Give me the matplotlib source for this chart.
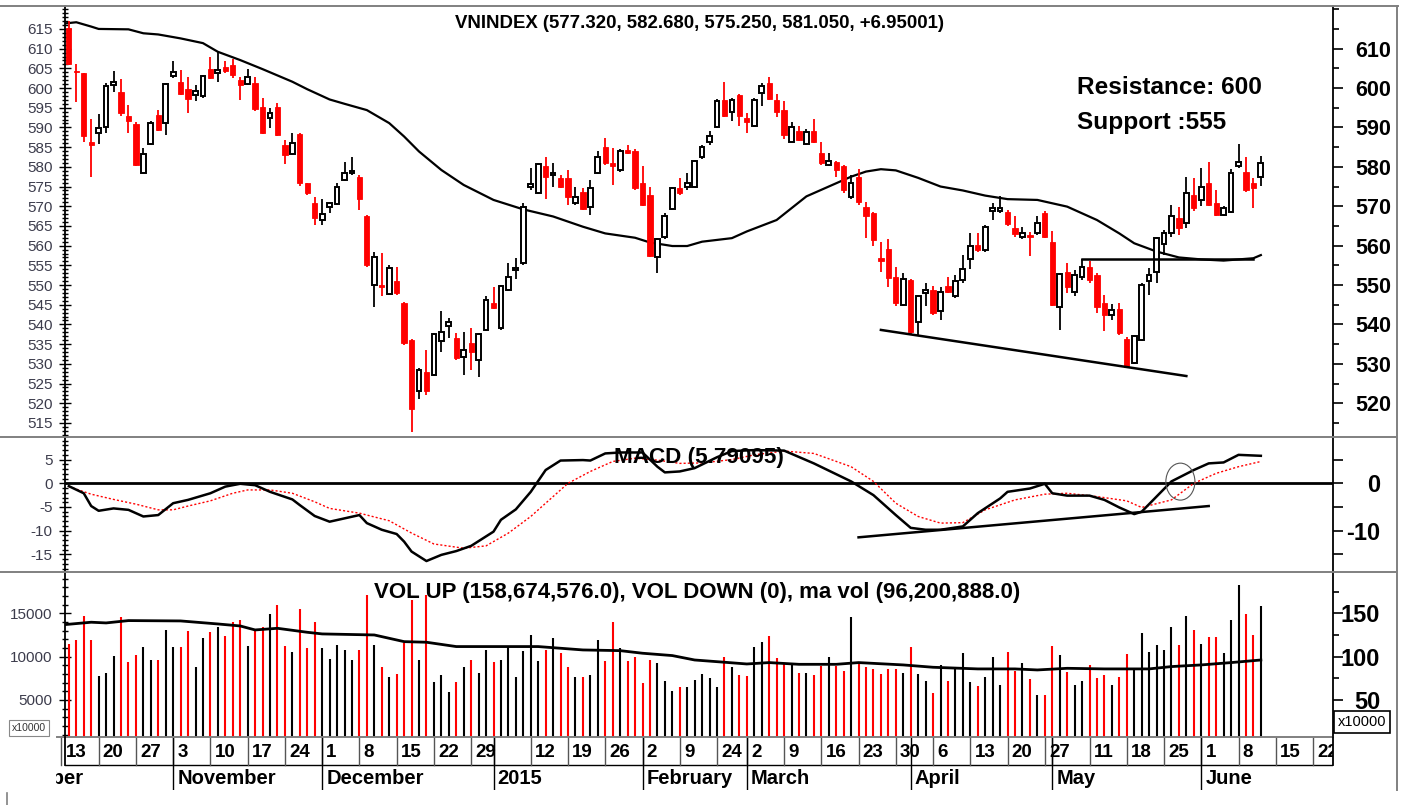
import numpy as np
import pandas as pd
import matplotlib
matplotlib.use("Agg")
import matplotlib.pyplot as plt
from matplotlib.lines import Line2D
from matplotlib.patches import Ellipse
from matplotlib.ticker import MultipleLocator
from matplotlib.transforms import offset_copy

plt.rcParams['font.family'] = ['Liberation Sans', 'DejaVu Sans']
BOLD = ['Liberation Sans', 'DejaVu Sans']

# ======================================================================
#=== daily candles, 14 Oct 2014 .. 11 Jun 2015
opens = [615.2, 604.4, 603.7, 586.2, 588.5, 590.2, 600.8, 599.1, 593.0, 590.8,
         578.5, 585.8, 593.2, 591.1, 603.1, 601.6, 599.7, 598.3, 598.0, 604.8,
         603.8, 605.4, 605.9, 602.1, 601.0, 601.2, 595.1, 592.3, 595.1, 585.6,
         583.3, 588.3, 575.8, 570.8, 566.5, 569.9, 570.6, 576.7, 578.4, 577.5,
         567.5, 550.0, 550.0, 547.7, 551.0, 545.5, 536.0, 523.0, 528.0, 527.2,
         535.9, 539.6, 536.5, 531.8, 535.2, 531.0, 538.6, 545.4, 539.0, 548.8,
         553.8, 555.5, 575.0, 573.3, 580.1, 578.0, 577.1, 577.1, 570.8, 573.7,
         569.9, 578.4, 585.1, 580.9, 579.2, 584.3, 584.1, 576.0, 572.9, 557.1,
         562.1, 569.2, 574.6, 575.0, 575.0, 582.6, 586.4, 590.0, 597.0, 594.0,
         598.2, 592.3, 590.4, 598.7, 601.2, 597.0, 594.4, 586.4, 589.1, 585.8,
         589.1, 583.6, 580.5, 581.1, 580.1, 572.4, 577.5, 569.9, 568.2, 556.8,
         559.1, 552.1, 545.0, 551.3, 540.5, 548.1, 548.8, 543.3, 549.8, 547.1,
         551.3, 556.5, 560.2, 558.9, 568.9, 568.9, 568.6, 564.4, 562.3, 562.7,
         563.1, 568.2, 560.8, 544.5, 553.4, 548.3, 552.0, 554.7, 552.6, 545.4,
         542.4, 543.9, 536.2, 530.1, 536.1, 550.9, 553.4, 560.4, 563.1, 566.9,
         565.7, 572.9, 571.6, 575.8, 570.8, 567.8, 568.6, 580.1, 578.8, 576.0,
         577.32]
highs = [616.9, 606.2, 603.9, 592.1, 593.3, 601.2, 604.2, 602.3, 595.7, 591.5,
         584.7, 591.7, 594.4, 601.2, 606.9, 604.6, 602.7, 600.8, 603.4, 607.8,
         609.2, 606.8, 607.3, 602.9, 604.8, 602.9, 597.4, 594.9, 596.3, 586.8,
         588.5, 588.7, 576.0, 572.3, 571.8, 571.0, 576.0, 581.3, 582.6, 577.8,
         567.8, 558.5, 558.1, 555.1, 554.7, 545.8, 536.4, 528.9, 533.5, 537.8,
         543.3, 541.6, 537.8, 538.2, 539.0, 537.8, 547.1, 549.5, 550.0, 555.5,
         556.8, 570.8, 579.6, 581.0, 582.6, 581.0, 577.9, 579.2, 575.0, 574.6,
         576.7, 583.9, 587.2, 584.7, 584.5, 585.6, 584.4, 580.1, 575.0, 561.9,
         568.2, 575.0, 577.1, 578.4, 581.8, 585.6, 589.0, 597.2, 601.6, 597.4,
         598.6, 593.6, 597.4, 601.2, 602.9, 598.5, 596.6, 591.5, 590.4, 589.5,
         592.1, 586.4, 583.6, 581.6, 580.5, 577.9, 579.4, 571.2, 568.6, 561.0,
         561.6, 554.7, 553.0, 551.6, 547.5, 550.4, 549.8, 549.6, 552.1, 552.6,
         557.6, 563.1, 563.1, 565.2, 570.9, 572.6, 569.0, 567.5, 564.7, 563.5,
         567.4, 568.7, 563.6, 553.0, 555.5, 553.7, 556.6, 556.2, 553.0, 547.5,
         545.2, 545.4, 536.9, 537.3, 550.4, 554.3, 562.1, 564.0, 570.3, 569.9,
         577.5, 577.1, 579.6, 581.3, 574.0, 570.0, 579.4, 585.8, 582.6, 577.1,
         582.68]
lows = [605.8, 596.4, 586.4, 577.5, 585.8, 588.5, 599.1, 593.0, 588.5, 580.1,
        578.4, 585.5, 589.0, 588.1, 602.5, 598.2, 593.6, 596.6, 597.4, 602.2,
        601.6, 603.7, 602.5, 596.9, 600.8, 594.2, 588.3, 589.8, 587.9, 580.7,
        583.0, 575.2, 572.9, 565.2, 565.2, 568.3, 570.3, 576.3, 577.9, 569.1,
        554.7, 544.4, 547.1, 547.4, 547.5, 534.8, 512.8, 521.0, 522.1, 527.0,
        532.9, 536.5, 531.0, 527.2, 528.5, 526.6, 538.3, 543.8, 538.6, 548.6,
        551.5, 555.1, 574.1, 573.1, 571.8, 575.0, 574.6, 570.4, 570.4, 569.0,
        567.9, 578.1, 580.5, 575.5, 578.8, 583.2, 574.2, 570.0, 557.2, 553.0,
        561.8, 569.0, 572.9, 574.1, 574.6, 581.9, 585.6, 589.8, 592.6, 591.7,
        590.4, 588.5, 590.2, 595.5, 597.0, 592.6, 587.0, 586.2, 586.6, 585.6,
        586.0, 580.5, 580.2, 577.5, 573.3, 571.8, 570.4, 561.9, 559.8, 553.3,
        549.5, 544.7, 544.8, 537.3, 537.3, 544.6, 542.4, 541.2, 548.0, 546.8,
        550.6, 554.0, 558.5, 558.5, 566.5, 568.2, 565.0, 562.3, 561.6, 557.4,
        562.8, 562.0, 544.6, 538.6, 547.9, 547.1, 551.3, 550.4, 542.8, 538.4,
        541.1, 537.4, 529.1, 529.9, 535.9, 547.5, 550.4, 557.6, 562.1, 562.7,
        564.4, 568.9, 570.1, 570.0, 567.6, 567.6, 568.3, 579.6, 573.5, 569.5,
        575.25]
closes = [606.0, 604.0, 587.8, 585.5, 589.8, 600.5, 601.6, 593.6, 591.7, 580.5,
          583.2, 591.2, 589.4, 601.0, 604.0, 598.4, 597.2, 599.3, 603.1, 602.5,
          604.5, 604.2, 603.3, 600.8, 602.9, 594.6, 588.5, 593.6, 588.1, 583.0,
          586.0, 575.8, 573.3, 567.0, 568.0, 570.8, 575.0, 578.4, 579.0, 571.8,
          555.1, 557.2, 549.4, 554.3, 547.9, 535.2, 518.5, 528.5, 523.2, 537.5,
          538.0, 540.6, 531.4, 533.5, 533.1, 537.5, 546.2, 544.1, 549.8, 552.1,
          554.3, 569.9, 575.6, 580.7, 577.5, 578.5, 575.0, 572.4, 572.4, 569.2,
          574.6, 582.4, 580.9, 580.1, 583.9, 583.6, 574.6, 570.3, 557.4, 561.6,
          567.4, 574.6, 573.3, 576.0, 581.5, 585.1, 587.7, 596.7, 592.9, 597.0,
          592.9, 591.5, 597.0, 600.5, 597.2, 594.0, 588.1, 590.0, 586.8, 588.9,
          586.4, 580.9, 581.6, 579.2, 574.1, 576.0, 571.0, 567.5, 561.5, 556.0,
          551.7, 545.4, 551.5, 538.2, 547.1, 548.8, 542.8, 548.3, 548.3, 550.9,
          554.0, 559.8, 558.9, 564.8, 569.5, 569.5, 565.5, 563.0, 563.1, 562.1,
          565.7, 562.3, 544.9, 552.8, 549.4, 552.6, 554.7, 551.3, 544.5, 542.4,
          543.7, 537.8, 529.3, 537.0, 550.0, 552.6, 561.9, 563.1, 567.5, 564.4,
          573.3, 569.5, 575.0, 570.3, 567.8, 569.5, 578.4, 581.1, 574.1, 574.6,
          581.05]
#=== volume, units of 10000 shares
volumes = [11470, 11930, 14740, 11930, 7780, 8160, 10090, 14630, 9360, 10200,
           11170, 9620, 9620, 13090, 11170, 11090, 13010, 8780, 12170, 12900,
           13480, 12440, 14050, 14250, 11240, 13090, 13480, 14900, 15980, 11240,
           10550, 15480, 11050, 13980, 11050, 9700, 11320, 10780, 9620, 10780,
           17130, 11360, 8860, 7620, 8010, 11550, 16560, 9620, 17130, 7120,
           7890, 5970, 7050, 8780, 9620, 8160, 10780, 9360, 9620, 11090,
           7620, 10630, 12480, 9550, 10780, 12130, 10470, 8860, 7620, 7700,
           7930, 11940, 9550, 14050, 10970, 9550, 10010, 6930, 9620, 9320,
           7200, 6080, 6540, 6540, 7320, 8010, 7510, 6470, 9930, 8780,
           7890, 7780, 11170, 11740, 12400, 9820, 9160, 9050, 8090, 8160,
           7890, 8930, 9930, 8930, 8390, 14630, 9430, 8780, 8550, 8010,
           8550, 8590, 8160, 11090, 8010, 7240, 5780, 9050, 7240, 8660,
           10470, 7050, 6620, 7620, 9930, 6740, 10590, 8350, 9240, 7470,
           5580, 5580, 11280, 10200, 8240, 6740, 7240, 9050, 7510, 7890,
           6740, 7620, 10320, 8470, 12710, 10510, 11360, 10780, 13400, 11360,
           14750, 13090, 11430, 12320, 12320, 10470, 14250, 18290, 14900, 12470,
           15870]

#=== moving averages (day index, value), 13 Oct 2014 = 0
ma_day = [0, 2, 4, 5, 9, 11, 13, 16, 19, 21, 24, 27, 31, 33, 36, 38, 41, 44, 46, 48,
          51, 54, 58, 62, 66, 70, 73, 77, 79, 82, 84, 86, 90, 92, 96, 98, 100, 103, 106, 108,
          110, 112, 115, 118, 121, 124, 127, 131, 135, 139, 142, 144, 147, 150, 153, 156, 160, 161]
ma_price = [616.3, 616.7, 615.6, 615.0, 614.9, 613.9, 613.6, 612.6, 611.4, 609.2,
            607.1, 604.8, 601.6, 599.7, 597.1, 596.0, 594.4, 591.1, 587.7, 583.9,
            579.2, 575.4, 571.6, 569.2, 567.4, 564.8, 563.1, 562.0, 560.8, 559.9,
            559.9, 561.0, 561.9, 563.6, 566.5, 569.5, 572.5, 575.0, 577.5, 578.8,
            579.4, 579.1, 577.2, 575.0, 574.0, 572.7, 571.8, 571.6, 569.9, 566.5,
            563.1, 560.6, 558.5, 557.0, 556.5, 556.2, 556.8, 557.6]
mavol_day = [0, 4, 6, 9, 16, 21, 24, 26, 29, 33, 35, 42, 46, 49, 53, 58, 64, 70, 75, 78,
             82, 85, 89, 92, 95, 99, 104, 107, 113, 117, 123, 128, 131, 135, 140, 146, 149, 153, 157, 161]
mavol = [13670, 13980, 13900, 14170, 14130, 13780, 13550, 13090, 13280, 12820,
         12630, 12510, 11740, 11670, 11170, 11170, 11170, 10780, 10700, 10400,
         10130, 9620, 9360, 9160, 9320, 9120, 9120, 9320, 9050, 8780,
         8590, 8590, 8470, 8660, 8590, 8590, 8860, 9050, 9320, 9620]
macd_day = [1, 3, 4, 5, 7, 9, 11, 13, 15, 17, 20, 22, 24, 26, 28, 31, 32, 34, 36, 38,
            40, 41, 43, 45, 46, 47, 49, 51, 53, 55, 58, 59, 61, 63, 65, 67, 70, 71, 73, 75,
            78, 80, 81, 83, 85, 88, 90, 93, 97, 101, 106, 109, 112, 114, 116, 118, 121, 123, 126, 127,
            130, 132, 133, 135, 138, 140, 142, 144, 145, 147, 149, 152, 154, 156, 158, 161]
macd = [-0.6, -2.1, -4.8, -5.8, -5.3, -5.6, -7.0, -6.7, -4.2, -3.5, -2.1, -0.7, -0.1, -0.4, -1.8, -3.4, -4.6, -6.9, -8.1, -7.4,
        -6.7, -8.4, -9.8, -10.7, -12.3, -14.4, -16.4, -15.1, -14.3, -13.2, -10.2, -7.7, -5.5, -1.8, 2.8, 4.8, 4.9, 4.8, 6.3, 6.5,
        6.5, 3.5, 2.3, 2.5, 3.2, 5.5, 6.8, 7.0, 6.9, 4.2, 0.4, -2.5, -6.7, -9.4, -9.8, -9.8, -9.1, -6.3, -3.2, -1.8,
        -1.1, -0.1, -2.1, -2.6, -2.6, -3.5, -5.1, -6.5, -6.0, -2.8, 0.4, 2.8, 4.2, 4.4, 6.0, 5.8]
signal_day = [1, 4, 7, 10, 13, 15, 17, 20, 23, 25, 28, 31, 34, 36, 40, 44, 47, 50, 54, 57,
              60, 63, 66, 68, 71, 74, 77, 80, 83, 86, 90, 93, 97, 101, 106, 109, 112, 115, 118, 121,
              124, 128, 132, 135, 139, 143, 145, 149, 152, 155, 158, 161]
signal = [-0.7, -2.3, -3.4, -4.4, -5.6, -5.6, -4.8, -3.7, -2.1, -1.4, -1.4, -2.1, -3.9, -5.3, -6.3, -7.9, -10.5, -12.8, -13.7, -13.2,
          -10.5, -7.0, -2.8, 0.0, 2.5, 4.6, 5.3, 4.9, 4.2, 4.3, 5.0, 6.0, 6.8, 6.3, 3.5, 0.4, -4.2, -7.0, -8.4, -8.3,
          -5.6, -3.5, -2.3, -2.1, -2.8, -3.7, -5.1, -3.5, 0.0, 2.1, 3.5, 4.6]

#=== hand drawn trend lines (day index, value)
price_trend = ([110, 151], [538.6, 526.9])
support_line = ([137, 160], [556.5, 556.5])
macd_trend = ([107, 154], [-11.4, -4.8])

#=== trading calendar
holidays = ['2015-01-01', '2015-01-02', '2015-02-16', '2015-02-17', '2015-02-18',
            '2015-02-19', '2015-02-20', '2015-02-23', '2015-04-28', '2015-04-29',
            '2015-04-30', '2015-05-01']
no_day_label = ['2015-01-05', '2015-05-04']
month_names = ['October', 'November', 'December', '2015', 'February',
               'March', 'April', 'May', 'June']

# ======================================================================
W, H = 1407, 805
X0, X1 = 64.5, 1333.0          # left / right axis in pixels
PX0, PXD = 61.4, 7.45          # pixel of day 0 and width of one day


def xday(px):
    return (px - PX0) / PXD


def add_ax(fig, top, bottom, left=X0):
    ax = fig.add_axes([left / W, 1 - bottom / H, (X1 - left) / W, (bottom - top) / H])
    ax.set_xlim(xday(left), xday(X1))
    ax.set_facecolor('none')
    for s in ['top', 'bottom', 'right']:
        ax.spines[s].set_visible(False)
    ax.spines['left'].set_linewidth(1.3)
    ax.set_xticks([])
    return ax


def right_axis(ax, lo, hi, ticks, labels, minor, pad, ha, size):
    r = ax.twinx()
    r.set_ylim(lo, hi)
    r.set_facecolor('none')
    for s in ['top', 'bottom', 'left']:
        r.spines[s].set_visible(False)
    r.spines['right'].set_linewidth(1.3)
    r.set_yticks(ticks)
    labs = r.set_yticklabels(labels, fontfamily=BOLD, fontweight='bold', fontsize=size)
    for t in labs:
        t.set_ha(ha)
    r.yaxis.set_minor_locator(MultipleLocator(minor))
    r.tick_params(axis='y', which='major', direction='out', length=7, width=1.2, pad=pad)
    r.tick_params(axis='y', which='minor', direction='out', length=4, width=1.2)
    return r


def left_ticks(ax, ticks, minor):
    ax.set_yticks(ticks)
    ax.set_yticklabels([str(t) for t in ticks], fontsize=11, color='#3c3c4c')
    ax.yaxis.set_minor_locator(MultipleLocator(minor))
    ax.tick_params(axis='y', which='major', direction='inout', length=9, width=1.0, pad=4)
    ax.tick_params(axis='y', which='minor', direction='inout', length=4, width=1.0)


def fig_line(fig, xs, ys, **kw):
    fig.add_artist(Line2D([x / W for x in xs], [1 - y / H for y in ys],
                          transform=fig.transFigure, **kw))


def fig_text(fig, x, y, s, **kw):
    fig.text(x / W, 1 - y / H, s, va='center', **kw)


cal = pd.bdate_range('2014-10-01', '2015-06-26')
cal = cal[~cal.isin(pd.to_datetime(holidays))]
day_of = {d: i - cal.get_loc(pd.Timestamp('2014-10-13')) for i, d in enumerate(cal)}
xs = np.array([day_of[pd.Timestamp('2014-10-14')] + i for i in range(len(opens))])

o = np.array(opens)
c = np.array(closes)
up = c >= o
bar_col = np.where(up, 'black', '#ff0000')

fig = plt.figure(figsize=(W / 100, H / 100), dpi=100)

#=== price panel
ax1 = add_ax(fig, 5.7, 436.7)
ax1.set_ylim(511.5, 620.9)
left_ticks(ax1, list(range(515, 616, 5)), 1)
right_axis(ax1, 511.5, 620.9, list(range(520, 611, 10)),
           [str(v) for v in range(520, 611, 10)], 5, 9, 'left', 15.5)
ax1.plot(ma_day, ma_price, color='black', lw=1.6, zorder=2)
ax1.vlines(xs, lows, highs, colors=bar_col, lw=1.3, zorder=3)
ax1.bar(xs[~up], np.abs(c - o)[~up], bottom=np.minimum(o, c)[~up], width=0.7,
        color='#ff0000', edgecolor='#ff0000', linewidth=0.6, zorder=4)
ax1.bar(xs[up], np.maximum(np.abs(c - o), 0.35)[up], bottom=np.minimum(o, c)[up], width=0.64,
        color='white', edgecolor='black', linewidth=1.4, zorder=4)
ax1.plot(*price_trend, color='black', lw=1.8, zorder=5)
ax1.plot(*support_line, color='black', lw=1.8, zorder=5)

#=== MACD panel
ax2 = add_ax(fig, 436.7, 571.7)
ax2.set_ylim(-18.65, 9.83)
left_ticks(ax2, [-15, -10, -5, 0, 5], 1)
right_axis(ax2, -18.65, 9.83, [-15, -10, -5, 0, 5], ['', '-10', '', '0', ''], 5, 27, 'right', 17)
ax2.axhline(0, color='black', lw=2.0, zorder=2)
ax2.plot(signal_day, signal, color='#ff0000', lw=1.0, ls=(0, (1.5, 1.5)), zorder=3)
ax2.plot(macd_day, macd, color='black', lw=1.8, zorder=4)
ax2.plot(*macd_trend, color='black', lw=1.8, zorder=4)
ax2.add_patch(Ellipse((150.2, 0.35), 3.9, 7.8, fill=False, edgecolor='#555555', lw=0.8, zorder=5))

#=== volume panel
ax3 = add_ax(fig, 571.7, 736.7)
ax3.set_ylim(762, 19815)
left_ticks(ax3, [5000, 10000, 15000], 1000)
right_axis(ax3, 7.62, 198.15, [50, 100, 150], ['50', '100', '150'], 25, 27, 'right', 17)
ax3.vlines(xs, 0, volumes, colors=bar_col, lw=1.5, zorder=2)
ax3.plot(mavol_day, mavol, color='black', lw=2.0, zorder=3)

#=== date strip
axd = add_ax(fig, 736.7, 790, left=56)
axd.spines['left'].set_visible(False)
axd.set_yticks([])
axd.set_ylim(0, 1)
row = (790 - 765) / (790 - 736.7)
axd.plot([xday(X0), xday(X1)], [row, row], color='black', lw=1.0)
shifted = offset_copy(axd.transData, fig=fig, x=3.0, y=0, units='points')
iso = cal.isocalendar()
weeks = pd.Series(cal, index=cal).groupby([iso.year.values, iso.week.values]).first()
for d in weeks:
    if d < pd.Timestamp('2014-10-13'):
        continue
    x = day_of[d]
    axd.plot([x, x], [row, 1], color='#555555', lw=1.0)
    if d.strftime('%Y-%m-%d') not in no_day_label:
        axd.text(x, 0.70, str(d.day), transform=shifted, va='center', ha='left',
                 fontweight='bold', fontsize=13.5, clip_on=True)
months = pd.Series(cal, index=cal).groupby([cal.year, cal.month]).first()
for d, name in zip(months, month_names):
    x = day_of[d]
    axd.plot([x, x], [0, 1], color='black', lw=1.0)
    axd.text(x, 0.21, name, transform=shifted, va='center', ha='left',
             fontweight='bold', fontsize=14.5, clip_on=True)

#=== frame lines
for y, x0, x1 in [(5.7, 0, 1398), (436.7, 0, 1396), (571.7, 0, 1396), (736.7, 57, X1)]:
    fig_line(fig, [x0, x1], [y, y], color='#808080', lw=1.4)
fig_line(fig, [1397, 1397], [5.7, 790], color='#808080', lw=1.4)
fig_line(fig, [X0, X0], [736.7, 765], color='black', lw=1.3)
fig_line(fig, [X1, X1], [736.7, 765], color='black', lw=1.3)
fig_line(fig, [7, 7], [793, 805], color='#808080', lw=1.2)

#=== labels
fig_text(fig, 455, 24, 'VNINDEX (577.320, 582.680, 575.250, 581.050, +6.95001)',
         fontweight='bold', fontsize=13.4)
fig_text(fig, 1077, 87.5, 'Resistance: 600', fontweight='bold', fontsize=17.6)
fig_text(fig, 1077, 122, 'Support :555', fontweight='bold', fontsize=17.6)
fig_text(fig, 614, 457, 'MACD (5.79095)', fontweight='bold', fontsize=16.2)
fig_text(fig, 374, 592, 'VOL UP (158,674,576.0), VOL DOWN (0), ma vol (96,200,888.0)',
         fontweight='bold', fontsize=16)
fig_text(fig, 29, 728, 'x10000', fontsize=7.5, ha='center', color='#333333',
         bbox=dict(boxstyle='square,pad=0.25', facecolor='white', edgecolor='#888888', lw=0.8))
fig_text(fig, 1362, 722, 'x10000', fontsize=10.5, ha='center',
         bbox=dict(boxstyle='square,pad=0.25', facecolor='white', edgecolor='black', lw=1.2))

fig.savefig('out.png', dpi=100)
